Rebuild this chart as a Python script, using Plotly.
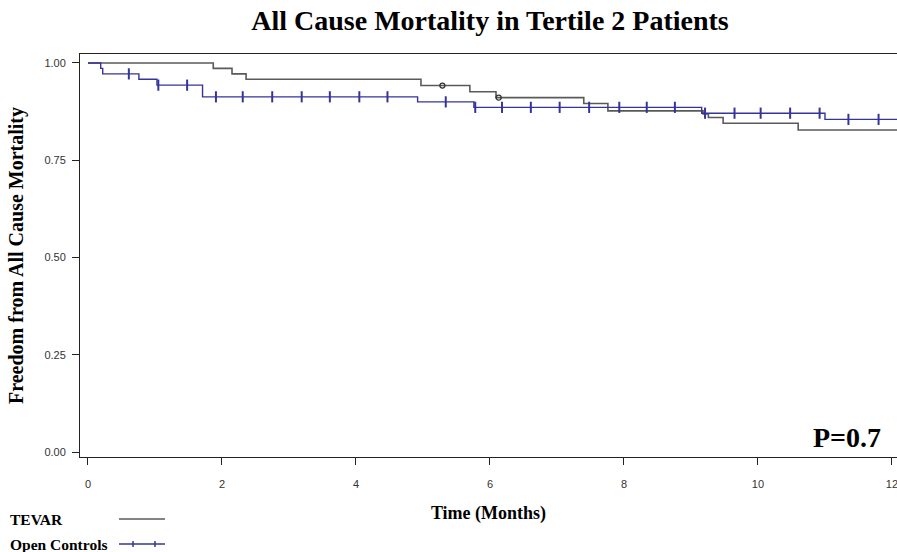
import numpy as np
import plotly.graph_objects as go

# ---- data ----
tevar_time = [0, 1.87, 2.15, 2.36, 4.97, 5.70, 6.09, 7.40, 7.76, 9.18, 9.26, 9.48, 10.60, 12.2]
tevar_surv = [1.0, 0.986, 0.972, 0.958, 0.942, 0.926, 0.911, 0.896, 0.877, 0.869, 0.860, 0.845, 0.828, 0.828]
tevar_censor = [5.29, 6.13]

open_time = [0, 0.19, 0.22, 0.76, 1.03, 1.71, 4.92, 5.76, 9.16, 11.0, 12.2]
open_surv = [1.0, 0.986, 0.972, 0.958, 0.943, 0.913, 0.900, 0.886, 0.871, 0.855, 0.855]
open_censor = [0.61, 1.05, 1.48, 1.91, 2.31, 2.75, 3.19, 3.61, 4.05, 4.47, 5.34, 5.78,
               6.18, 6.61, 7.04, 7.48, 7.93, 8.34, 8.76, 9.21, 9.65, 10.04, 10.48,
               10.92, 11.35, 11.80]

x_ticks = [0, 2, 4, 6, 8, 10, 12]
y_ticks = [0.0, 0.25, 0.5, 0.75, 1.0]

GRAY = "#5a5a5a"
BLUE = "#34349a"
SERIF = "Liberation Serif, Times New Roman, serif"
SANS = "Liberation Sans, Arial, sans-serif"
X_RANGE = [-0.119, 12.075]
Y_RANGE = [-0.012, 1.023]


def step_at(times, surv, t):
    idx = np.searchsorted(np.array(times), np.array(t), side="right") - 1
    return list(np.array(surv)[idx])


fig = go.Figure()
fig.add_trace(go.Scatter(x=tevar_time, y=tevar_surv, mode="lines", line_shape="hv",
                         line=dict(color=GRAY, width=1.6), name="TEVAR", showlegend=False))
fig.add_trace(go.Scatter(x=tevar_censor, y=step_at(tevar_time, tevar_surv, tevar_censor),
                         mode="markers",
                         marker=dict(symbol="circle-open", size=5, color="#333333",
                                     line=dict(width=1.3, color="#333333")),
                         showlegend=False))
fig.add_trace(go.Scatter(x=open_time, y=open_surv, mode="lines", line_shape="hv",
                         line=dict(color=BLUE, width=1.4), name="Open Controls", showlegend=False))
fig.add_trace(go.Scatter(x=open_censor, y=step_at(open_time, open_surv, open_censor),
                         mode="markers",
                         marker=dict(symbol="line-ns", size=8, color=BLUE,
                                     line=dict(width=2, color=BLUE)),
                         showlegend=False))
# empty trace that carries the overlay axes used for tick labels
fig.add_trace(go.Scatter(x=[None], y=[None], xaxis="x2", yaxis="y2", mode="markers",
                         showlegend=False, hoverinfo="skip"))

W, H = 897, 552
L, R, T, B = 80, 0, 54, 95
pw, ph = W - L - R, H - T - B


def px(x):
    return (x - L) / pw


def py(y):
    return (H - B - y) / ph


common = dict(showgrid=False, zeroline=False, automargin=False)

fig.update_layout(
    width=W, height=H,
    margin=dict(l=L, r=R, t=T, b=B, autoexpand=False),
    paper_bgcolor="white", plot_bgcolor="white",
    title=dict(text="<b>All Cause Mortality in Tertile 2 Patients</b>",
               x=490 / W, xref="container", xanchor="center",
               y=1 - 20 / H, yref="container", yanchor="middle",
               font=dict(family=SERIF, size=28, color="black")),
    # main axes: frame lines and visible tick marks
    xaxis=dict(range=X_RANGE, tickvals=x_ticks, showticklabels=False,
               showline=True, linecolor="#222222", linewidth=1.2, mirror=True,
               ticks="outside", ticklen=7, tickwidth=1.3, tickcolor="#222222", **common),
    yaxis=dict(range=Y_RANGE, tickvals=y_ticks, showticklabels=False,
               showline=True, linecolor="#222222", linewidth=1.2, mirror=False,
               ticks="outside", ticklen=7, tickwidth=1.3, tickcolor="#222222", **common),
    # overlay axes: tick labels and titles
    xaxis2=dict(overlaying="x", anchor="y2", side="bottom", range=X_RANGE,
                tickvals=x_ticks, ticktext=[str(v) for v in x_ticks],
                ticklabeloverflow="allow", ticklabelstandoff=10, showline=False,
                ticks="outside", ticklen=7, tickcolor="rgba(0,0,0,0)",
                tickfont=dict(family=SANS, size=11, color="#333333"),
                title=dict(text="<b>Time (Months)</b>", standoff=17,
                           font=dict(family=SERIF, size=18, color="black")), **common),
    yaxis2=dict(overlaying="y", anchor="x2", side="left", range=Y_RANGE,
                tickvals=y_ticks, ticktext=[f"{v:.2f}" for v in y_ticks],
                ticklabelstandoff=4, showline=False,
                ticks="outside", ticklen=7, tickcolor="rgba(0,0,0,0)",
                tickfont=dict(family=SANS, size=11, color="#333333"),
                title=dict(text="<b>Freedom from All Cause Mortality</b>", standoff=15,
                           font=dict(family=SERIF, size=20, color="black")), **common),
)

fig.add_annotation(text="<b>P=0.7</b>", x=px(847), y=py(437), xref="paper", yref="paper",
                   xanchor="center", yanchor="middle",
                   showarrow=False, font=dict(family=SERIF, size=28, color="black"))

# custom legend below the plot
legend_items = [("TEVAR", GRAY, False, 519), ("Open Controls", BLUE, True, 544)]
for label, color, ticks, ypx in legend_items:
    fig.add_annotation(text=f"<b>{label}</b>", x=px(8), y=py(ypx), xref="paper", yref="paper",
                       xanchor="left", yanchor="middle", showarrow=False,
                       font=dict(family=SERIF, size=15.5, color="black"))
    fig.add_shape(type="line", xref="paper", yref="paper", x0=px(119), x1=px(165),
                  y0=py(ypx), y1=py(ypx), line=dict(color=color, width=1.5))
    if ticks:
        for tx in (133, 155):
            fig.add_shape(type="line", xref="paper", yref="paper", x0=px(tx), x1=px(tx),
                          y0=py(ypx - 3), y1=py(ypx + 3), line=dict(color=color, width=1.5))

fig.write_html("out.html", config={"displayModeBar": False},
               post_script="document.body.style.margin='0';document.body.style.overflow='hidden';")
